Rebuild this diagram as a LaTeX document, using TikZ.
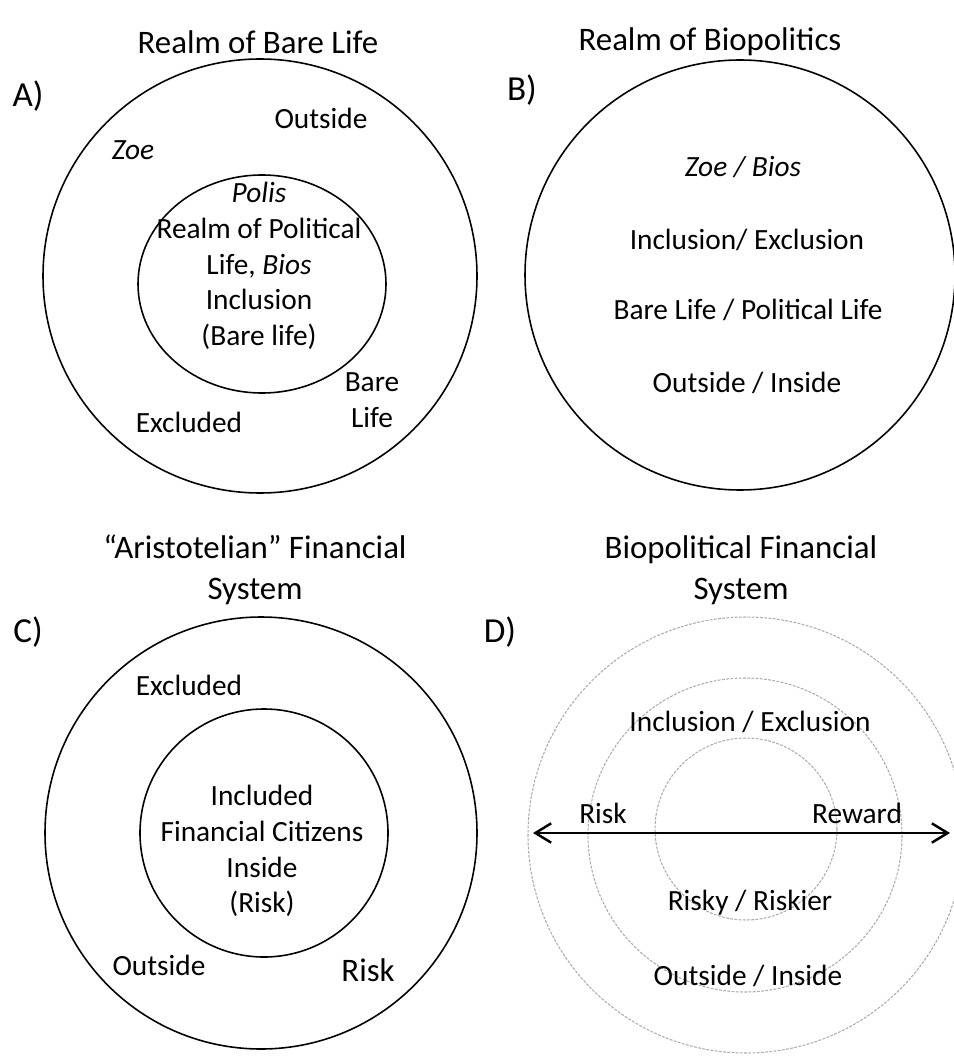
\documentclass[tikz,border=0pt]{standalone}
\usepackage{fontspec}
\setmainfont{Carlito}
\usetikzlibrary{arrows.meta}

\begin{document}
\begin{tikzpicture}[x=0.02cm, y=-0.02cm,
  ring/.style = {draw, line width=0.9pt},
  dashring/.style = {draw=gray!65, dash pattern=on 1.6pt off 0.8pt, line width=0.6pt},
  txt/.style = {font=\fontsize{16.7}{20.4}\selectfont, align=center, inner sep=0pt},
  ttl/.style = {font=\fontsize{18.7}{23.2}\selectfont, align=center, inner sep=0pt},
  lbl/.style = {font=\fontsize{20}{24}\selectfont, inner sep=0pt}]
\useasboundingbox (0,0) rectangle (953,1057);

% A) realm of bare life
\node[ttl] (titleA) at (258,42) {Realm of Bare Life};
\node[lbl] (labA) at (28,96) {A)};
\draw[ring] (260,276) circle[radius=217];
\draw[ring] (262,284) ellipse[x radius=124, y radius=109];
\node[txt] (outA) at (321,118) {Outside};
\node[txt] (zoeA) at (133,150) {\textit{Zoe}};
\node[txt] (polis) at (259,266) {\textit{Polis}\\Realm of Political\\Life, \textit{Bios}\\Inclusion\\(Bare life)};
\node[txt] (bareA) at (372,400) {Bare\\Life};
\node[txt] (exclA) at (189,422) {Excluded};

% B) realm of biopolitics
\node[ttl] (titleB) at (710,42) {Realm of Biopolitics};
\node[lbl] (labB) at (522,90) {B)};
\draw[ring] (740,275) circle[radius=215];
\node[txt] (zoebios) at (743,167) {\textit{Zoe / Bios}};
\node[txt] (inclB) at (747,240) {Inclusion/ Exclusion};
\node[txt] (bareB) at (748,310) {Bare Life / Political Life};
\node[txt] (outB) at (747,383) {Outside / Inside};

% C) aristotelian system
\node[ttl] (titleC) at (255,570) {“Aristotelian” Financial\\System};
\node[lbl] (labC) at (28,632) {C)};
\draw[ring] (261,833) circle[radius=216];
\draw[ring] (264,833) circle[radius=124];
\node[txt] (exclC) at (189,685) {Excluded};
\node[txt] (inclC) at (262,851) {Included\\Financial Citizens\\Inside\\(Risk)};
\node[txt] (outC) at (159,965) {Outside};
\node[ttl] (riskC) at (368,970) {Risk};

% D) biopolitical system
\node[ttl] (titleD) at (741,570) {Biopolitical Financial\\System};
\node[lbl] (labD) at (500,632) {D)};
\draw[dashring] (746,835) circle[radius=218];
\draw[dashring] (745,835) circle[radius=157];
\draw[dashring] (746,829) circle[radius=91];
\node[txt] (inclD) at (750,722) {Inclusion / Exclusion};
\node[txt] (riskD) at (603,813) {Risk};
\node[txt] (reward) at (857,813) {Reward};
\node[txt] (risky) at (750,903) {Risky / Riskier};
\node[txt] (outD) at (748,976) {Outside / Inside};
\coordinate (riskend) at (533,833);
\coordinate (rewardend) at (950,833);
\draw[{Straight Barb[length=9pt,width=11pt]}-{Straight Barb[length=9pt,width=11pt]}, line width=1.4pt] (riskend) -- (rewardend);
\end{tikzpicture}
\end{document}
